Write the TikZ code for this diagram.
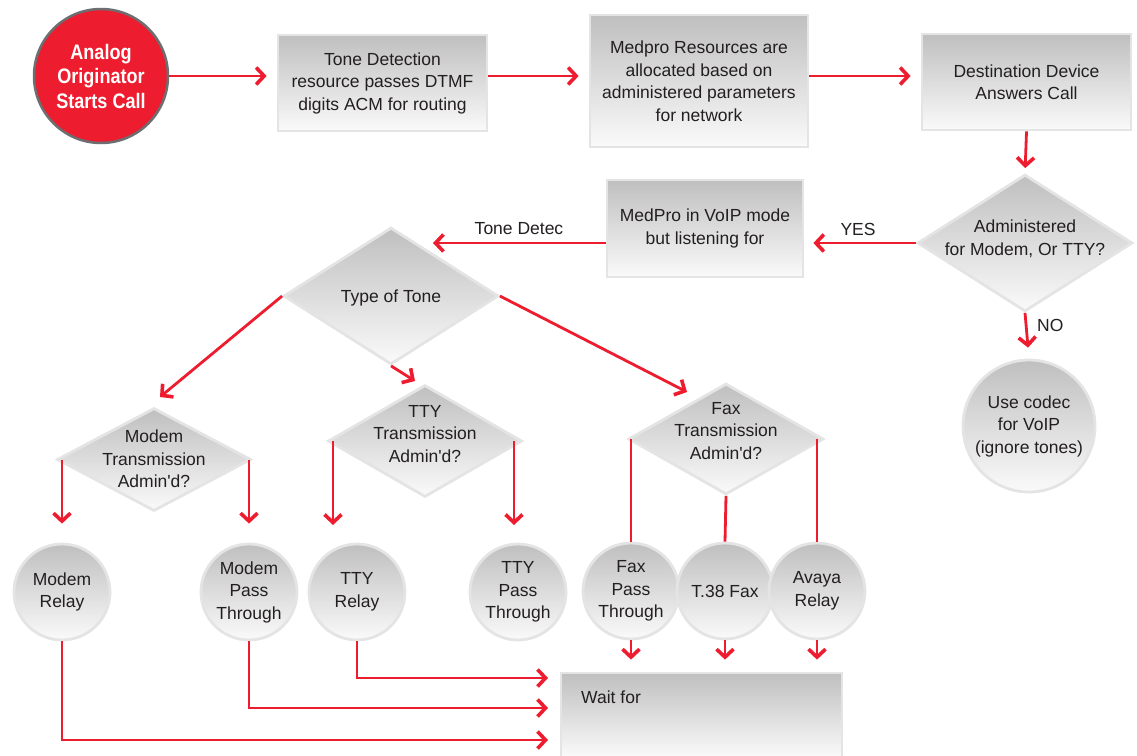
\documentclass[tikz,border=0pt]{standalone}
\usepackage{fontspec}
\setmainfont{Liberation Sans}
\newfontfamily\condsans[FakeStretch=0.86]{Liberation Sans}
\usetikzlibrary{arrows.meta,shapes.geometric}
\definecolor{cred}{HTML}{ED1C2E}
\definecolor{cgray}{HTML}{6D6E71}
\definecolor{bord}{HTML}{E4E4E4}
\definecolor{gtop}{HTML}{BFBFBF}
\definecolor{gbot}{HTML}{FAFAFA}
\definecolor{txt}{HTML}{231F20}
\tikzset{
  tfont/.style={font=\fontsize{17.5}{22.5}\selectfont},
  flow/.style={draw=cred, line width=2.8pt, -{Straight Barb[length=8pt,width=17pt,line width=3.6pt]}},
  plain/.style={draw=cred, line width=2.8pt},
  box/.style={rectangle, draw=bord, line width=2.8pt, top color=gtop, bottom color=gbot,
    align=center, text=txt, tfont, inner sep=0pt},
  dia/.style={diamond, draw=bord, line width=2.8pt, top color=gtop, bottom color=gbot, inner sep=0pt},
  circ/.style={circle, draw=bord, line width=2.8pt, top color=gtop, bottom color=gbot,
    align=center, text=txt, tfont, inner sep=0pt, minimum size=96pt},
  lbl/.style={align=center, text=txt, tfont, inner sep=0pt},
}
\begin{document}
\begin{tikzpicture}[x=1pt,y=-1pt]
\useasboundingbox (0,0) rectangle (1137,755);

% top row
\node[circle, fill=cred, draw=cgray, line width=2.5pt, minimum size=134pt, inner sep=0pt,
  text=white, align=center, font=\condsans\bfseries\fontsize{21}{24.5}\selectfont] (start) at (101,76)
  {Analog\\Originator\\Starts Call};
\node[box, minimum width=209pt, minimum height=96pt] (b1) at (382.5,83)
  {Tone Detection\\resource passes DTMF\\digits ACM for routing};
\node[box, minimum width=218pt, minimum height=132pt] (b2) at (699,81)
  {Medpro Resources are\\allocated based on\\administered parameters\\for network};
\node[box, minimum width=209pt, minimum height=96pt] (b3) at (1026.5,82)
  {Destination Device\\Answers Call};

% second row
\node[dia, minimum width=215pt, minimum height=137pt] (adm) at (1025,243) {};
\node[lbl] (admt) at (1025,239) {Administered\\for Modem, Or TTY?};
\node[box, minimum width=196pt, minimum height=97pt] (medpro) at (705,228.5)
  {MedPro in VoIP mode\\but listening for};
\node[dia, minimum width=215pt, minimum height=137pt] (tt) at (391,296) {};
\node[lbl] (ttt) at (391,298) {Type of Tone};
\node[circ, minimum size=132pt] (codec) at (1029,426) {Use codec\\for VoIP\\(ignore tones)};

% third row diamonds
\node[dia, minimum width=194pt, minimum height=103pt] (md) at (154,459.5) {};
\node[lbl] (mdt) at (154,459) {Modem\\Transmission\\Admin\textquotesingle d?};
\node[dia, minimum width=194pt, minimum height=112pt] (td) at (425,441) {};
\node[lbl] (tdt) at (425,434) {TTY\\Transmission\\Admin\textquotesingle d?};
\node[dia, minimum width=195pt, minimum height=111pt] (fd) at (726,439) {};
\node[lbl] (fdt) at (726,431) {Fax\\Transmission\\Admin\textquotesingle d?};

% bottom circles
\node[circ] (mr) at (62,592) {Modem\\Relay};
\node[circ] (mp) at (249,592) {Modem\\Pass\\Through};
\node[circ] (tr) at (357,592) {TTY\\Relay};
\node[circ] (tp) at (518,592) {TTY\\Pass\\Through};
\node[circ] (fp) at (631,591) {Fax\\Pass\\Through};
\node[circ] (t38) at (725,591) {T.38 Fax};
\node[circ] (av) at (817,591) {Avaya\\Relay};

% wait box
\node[box, minimum width=281pt, minimum height=84pt] (wait) at (701.5,715) {};
\node[lbl, anchor=west] (waitt) at (581,697) {Wait for};

% coordinates
\coordinate (tdtip) at (433,243);
\coordinate (t1) at (160,397);
\coordinate (t2) at (415,381);
\coordinate (t3) at (687,392);
\coordinate (a1) at (333,525);
\coordinate (a2) at (514,525);
\coordinate (w1) at (548,678);
\coordinate (w2) at (548,708);
\coordinate (w3) at (548,740);

% connectors top
\draw[flow, shorten >=10pt] (start.east) -- (b1.west |- start.east);
\draw[flow, shorten >=10pt] (b1.east |- start.east) -- (b2.west |- start.east);
\draw[flow, shorten >=10pt] (b2.east |- start.east) -- (b3.west |- start.east);
\draw[flow, shorten >=5pt] (b3.south) -- (adm.north);
\draw[flow, shorten >=9pt] (adm.west) -- (medpro.east |- adm.west);
\draw[flow] (medpro.west |- adm.west) -- (tdtip);
\node[lbl] (yes) at (858,229) {YES};
\node[lbl] (tdl) at (519,229) {Tone Detec};
\draw[flow, shorten >=11pt] (adm.south) -- (codec.north);
\node[lbl, anchor=west] (no) at (1037,325) {NO};

% type of tone
\draw[flow] (tt.west) -- (t1);
\draw[flow] (tt.south) -- (t2);
\draw[flow] (tt.east) -- (t3);

% transmission diamonds
\draw[flow, shorten >=19pt] (mr.north |- md.west) -- (mr.north);
\draw[flow, shorten >=19pt] (mp.north |- md.east) -- (mp.north);
\draw[flow] (a1 |- td.west) -- (a1);
\draw[flow] (a2 |- td.east) -- (a2);
\draw[plain] (fp.north |- fd.west) -- (fp.north);
\draw[plain] (fd.south) -- (t38.north);
\draw[plain] (av.north |- fd.east) -- (av.north);

% to wait
\draw[flow, shorten >=12pt] (fp.south) -- (fp.south |- wait.north);
\draw[flow, shorten >=12pt] (t38.south) -- (t38.south |- wait.north);
\draw[flow, shorten >=12pt] (av.south) -- (av.south |- wait.north);
\draw[flow] (tr.south) |- (w1);
\draw[flow] (mp.south) |- (w2);
\draw[flow] (mr.south) |- (w3);
\end{tikzpicture}
\end{document}
